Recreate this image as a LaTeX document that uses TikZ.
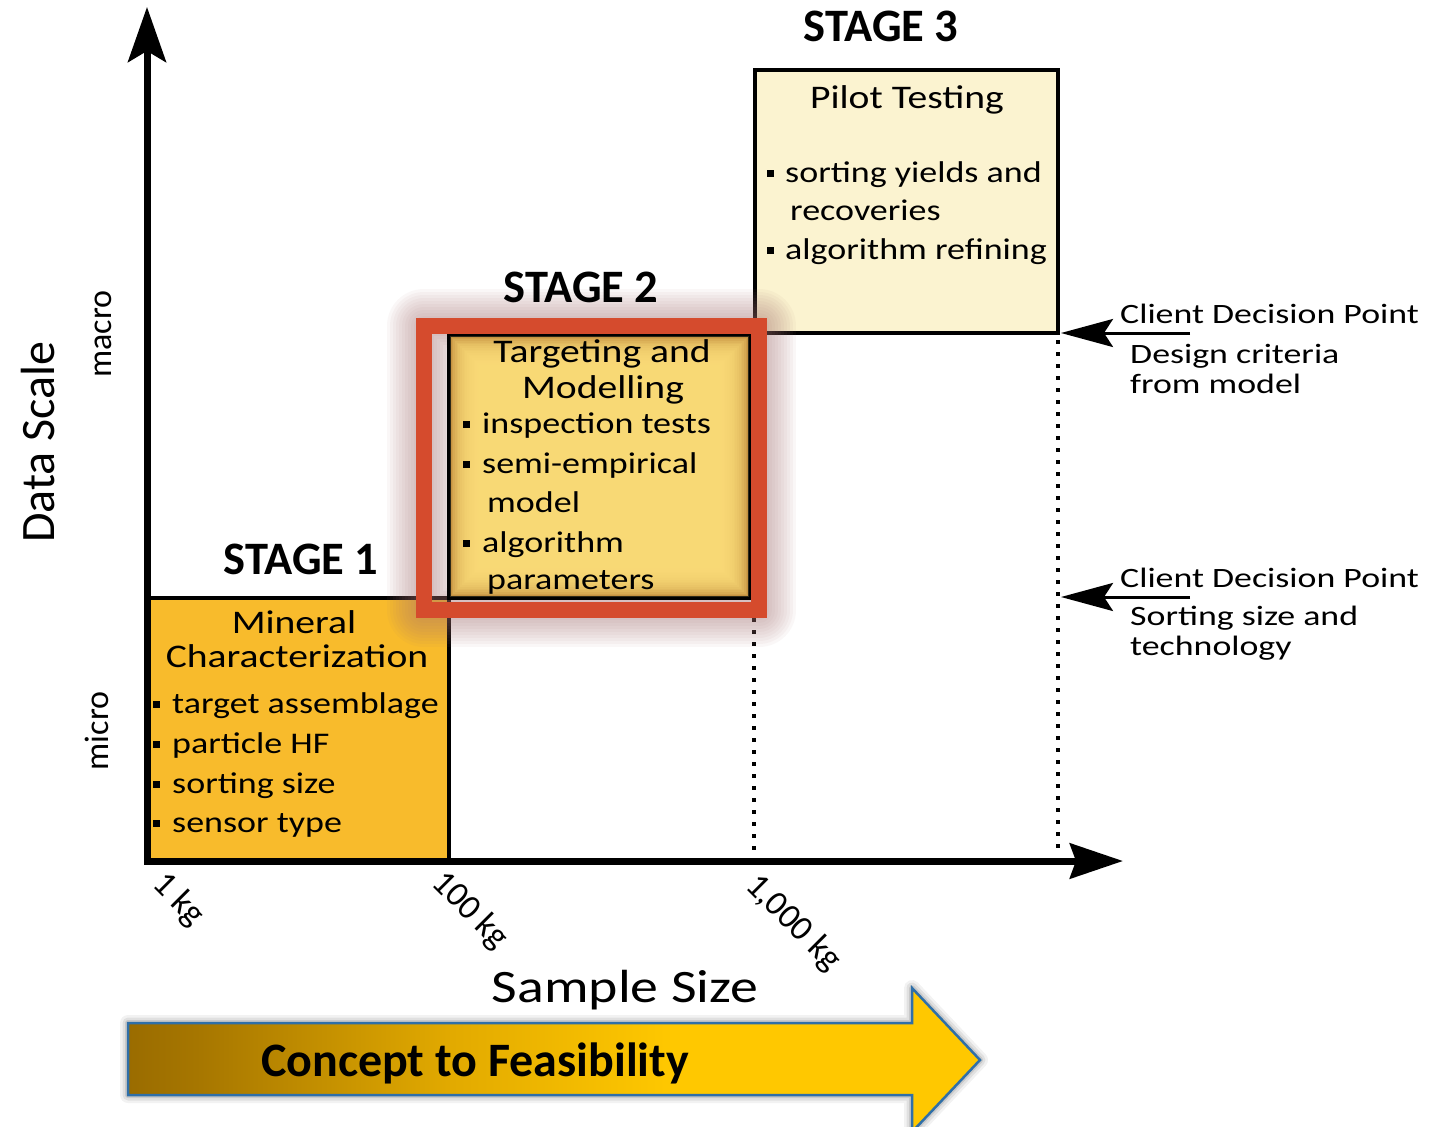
\documentclass[tikz,border=0pt]{standalone}
\usepackage{fontspec}
\setmainfont{Carlito}
\newfontfamily\figfont[FakeStretch=1.2]{Carlito}
\newfontfamily\cdfont[FakeStretch=1.28]{Carlito}
\usetikzlibrary{arrows.meta}
\definecolor{stone}{HTML}{F8BB2C}
\definecolor{sthree}{HTML}{FBF3D0}
\definecolor{stwo}{HTML}{FDDE7A}
\definecolor{stwoedge}{HTML}{B98235}
\definecolor{redfr}{HTML}{D54B2D}
\definecolor{glowc}{HTML}{A87474}
\definecolor{arrblue}{HTML}{2F6FA8}
\definecolor{cfdark}{HTML}{9A6C00}
\definecolor{cfdarkb}{HTML}{A67600}
\definecolor{cfmid}{HTML}{E2AA00}
\definecolor{cflight}{HTML}{FFC800}
\pgfdeclarehorizontalshading{cfshade}{100bp}{color(0bp)=(cfdark); color(25bp)=(cfdark); color(29bp)=(cfdarkb); color(44bp)=(cfmid); color(57bp)=(cflight); color(100bp)=(cflight)}
\newcommand{\sqbul}{\raisebox{5pt}{\rule{7pt}{7pt}}}
\begin{document}
\begin{tikzpicture}[x=1pt,y=-1pt,
  box/.style={draw=black, line width=3.5pt, inner sep=0pt},
  btxt/.style={font=\figfont\fontsize{30}{36}\selectfont, inner sep=0pt, anchor=base west},
  ttxt/.style={font=\figfont\fontsize{33}{40}\selectfont, inner sep=0pt, anchor=base},
  cdtxt/.style={font=\cdfont\fontsize{28}{34}\selectfont, inner sep=0pt, anchor=base west},
  stagelbl/.style={font=\bfseries\fontsize{46.5}{54}\selectfont, inner sep=0pt, anchor=base},
  ticklbl/.style={font=\fontsize{35}{40}\selectfont, inner sep=0pt, rotate=-45},
  scalelbl/.style={font=\fontsize{34}{40}\selectfont, inner sep=0pt, rotate=90},
  axisln/.style={line width=7pt, line join=miter,
     {Stealth[length=55pt,width=38pt,inset=11pt]}-{Stealth[length=53pt,width=35pt,inset=6pt]}},
  dotln/.style={line width=4pt, dash pattern=on 4pt off 8pt},
  cdarrow/.style={line width=3pt, -{Stealth[length=52pt,width=28pt,inset=9pt]}}
]
\useasboundingbox (0,0) rectangle (1435,1127);
\fill[white] (0,0) rectangle (1435,1127);

% stage 1 and stage 3 boxes
\node[box, fill=stone, minimum width=302pt, minimum height=263pt] (s1) at (298,729.5) {};
\node[box, fill=sthree, minimum width=303pt, minimum height=263pt] (s3) at (906.5,201.5) {};

% dotted guide lines
\coordinate (d1a) at (754,606);
\coordinate (d1b) at (754,854);
\coordinate (d2a) at (1058,340);
\coordinate (d2b) at (1058,854);
\draw[dotln] (d1a) -- (d1b);
\draw[dotln] (d2a) -- (d2b);

% soft glow around the highlight frame
\coordinate (rf1) at (424,326);
\coordinate (rf2) at (759,610);
\foreach \w in {74,68,...,20}
  \draw[glowc, line width=\w pt, opacity=0.055, line join=round] (rf1) rectangle (rf2);

% stage 2 box with vignette
\node[box, fill=stwoedge, minimum width=301pt, minimum height=263pt] (s2) at (599.5,466.5) {};
\foreach \i in {1,...,18}
  \fill[stwo, opacity=0.18] ([shift={(\i*1.7pt+1pt,-\i*1.7pt-1pt)}]s2.north west) rectangle ([shift={(-\i*1.7pt-1pt,\i*1.7pt+1pt)}]s2.south east);

% red highlight frame
\draw[redfr, line width=16pt] (rf1) rectangle (rf2);

% axes
\coordinate (ytip) at (147,7);
\coordinate (orig) at (147,861);
\coordinate (xtip) at (1123,861);
\draw[axisln] (ytip) -- (orig) -- (xtip);

% stage labels
\node[stagelbl] (lab3) at (881,41) {STAGE 3};
\node[stagelbl] (lab2) at (581,302) {STAGE 2};
\node[stagelbl] (lab1) at (301,574) {STAGE 1};

% stage 1 text
\node[ttxt] (t1a) at (294,633) {Mineral};
\node[ttxt] (t1b) at (297,667) {Characterization};
\node[btxt] (b1a) at (153,713) {\sqbul\hspace{12pt}target assemblage};
\node[btxt] (b1b) at (153,753) {\sqbul\hspace{12pt}particle HF};
\node[btxt] (b1c) at (153,793) {\sqbul\hspace{12pt}sorting size};
\node[btxt] (b1d) at (153,832) {\sqbul\hspace{12pt}sensor type};

% stage 2 text
\node[ttxt] (t2a) at (602,362) {Targeting and};
\node[ttxt] (t2b) at (603,398) {Modelling};
\node[btxt] (b2a) at (463,433) {\sqbul\hspace{12pt}inspection tests};
\node[btxt] (b2b) at (463,473) {\sqbul\hspace{12pt}semi-empirical};
\node[btxt] (b2c) at (487,512) {model};
\node[btxt] (b2d) at (463,552) {\sqbul\hspace{12pt}algorithm};
\node[btxt] (b2e) at (487,589) {parameters};

% stage 3 text
\node[ttxt] (t3a) at (907,108) {Pilot Testing};
\node[btxt] (b3a) at (767,182) {\sqbul\hspace{11pt}sorting yields and};
\node[btxt] (b3b) at (790,220) {recoveries};
\node[btxt] (b3c) at (767,259) {\sqbul\hspace{11pt}algorithm refining};

% client decision points
\coordinate (cd1s) at (1190,333);
\coordinate (cd1t) at (1061,333);
\coordinate (cd2s) at (1190,597);
\coordinate (cd2t) at (1061,597);
\draw[cdarrow] (cd1s) -- (cd1t);
\draw[cdarrow] (cd2s) -- (cd2t);
\node[cdtxt] (c1a) at (1120,323) {Client Decision Point};
\node[cdtxt] (c1b) at (1130,363) {Design criteria};
\node[cdtxt] (c1c) at (1130,393) {from model};
\node[cdtxt] (c2a) at (1120,587) {Client Decision Point};
\node[cdtxt] (c2b) at (1130,625) {Sorting size and};
\node[cdtxt] (c2c) at (1130,655) {technology};

% axis labels
\node[font=\fontsize{48}{56}\selectfont, inner sep=0pt, rotate=90] (yl) at (38,442) {Data Scale};
\node[scalelbl] (mac) at (103,334) {macro};
\node[scalelbl] (mic) at (97,731) {micro};
\node[ticklbl] (k1) at (178,900) {1 kg};
\node[ticklbl] (k100) at (470,911) {100 kg};
\node[ticklbl] (k1000) at (793,923) {1,000 kg};
\node[font=\figfont\fontsize{46.5}{54}\selectfont, inner sep=0pt, anchor=base] (xl) at (625,1002) {Sample Size};

% bottom arrow
\coordinate (ba1) at (128,1023);
\coordinate (ba2) at (912,1023);
\coordinate (ba3) at (912,988);
\coordinate (ba4) at (980,1060);
\coordinate (ba5) at (912,1132);
\coordinate (ba6) at (912,1095);
\coordinate (ba7) at (128,1095);
\foreach \w/\o in {16/0.05,11/0.07,6/0.10}
  \draw[black, opacity=\o, line width=\w pt, line join=round, shift={(-3pt,-4pt)}]
    (ba1) -- (ba2) -- (ba3) -- (ba4) -- (ba5) -- (ba6) -- (ba7) -- cycle;
\shade[shading=cfshade] (ba1) -- (ba2) -- (ba3) -- (ba4) -- (ba5) -- (ba6) -- (ba7) -- cycle;
\draw[arrblue, line width=2.5pt, line join=miter] (ba1) -- (ba2) -- (ba3) -- (ba4) -- (ba5) -- (ba6) -- (ba7) -- cycle;
\node[font=\bfseries\fontsize{48}{56}\selectfont, inner sep=0pt] (cf) at (475,1063) {Concept to Feasibility};
\end{tikzpicture}
\end{document}
